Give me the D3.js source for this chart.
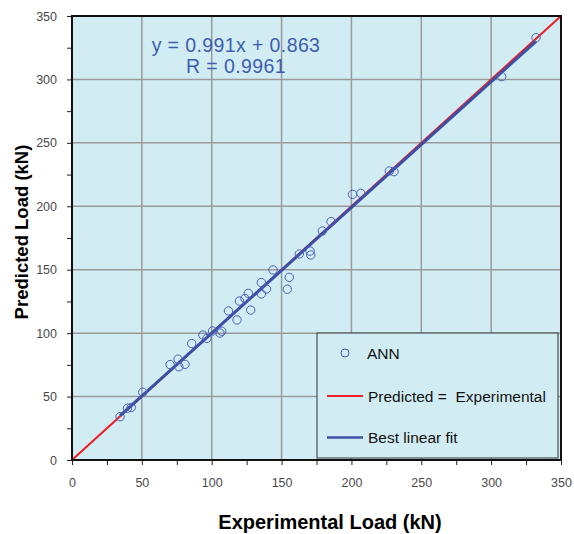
<!DOCTYPE html>
<html>
<head>
<meta charset="utf-8">
<script src="https://cdn.jsdelivr.net/npm/d3@7"></script>
<style>
  body { margin: 0; background: #fff; }
  svg { font-family: "Liberation Sans", Arial, sans-serif; }
  .tick text { fill: #4a4a4a; font-size: 12.5px; }
</style>
</head>
<body>
<div id="chart"></div>
<script>
// experimental vs predicted load (kN)
var experimental = [34.4, 39.7, 42.4, 50.6, 70.2, 75.9, 76.5, 80.9, 85.7, 93.7,
                    96.6, 100.6, 105.9, 107.2, 112.0, 118.1, 119.8, 123.8, 126.2, 127.9,
                    135.5, 135.6, 139.2, 143.9, 155.5, 154.1, 162.7, 170.4, 170.9, 179.2,
                    185.4, 200.8, 206.7, 227.1, 230.5, 307.6, 332.1];
var predicted    = [34.1, 40.8, 41.4, 53.4, 75.2, 79.5, 73.5, 75.4, 91.8, 98.5,
                    95.9, 101.7, 100.1, 101.5, 117.5, 110.4, 125.3, 127.3, 131.4, 118.2,
                    139.9, 130.9, 134.8, 149.8, 144.0, 134.6, 162.4, 164.7, 161.6, 180.5,
                    187.9, 209.4, 210.2, 227.8, 227.3, 302.2, 332.9];

var fitSlope = 0.991;
var fitIntercept = 0.863;
var equationLines = ["y = 0.991x + 0.863", "R = 0.9961"];
var tickValues = d3.range(0, 351, 25);
var legendLabels = ["ANN", "Predicted =  Experimental", "Best linear fit"];

var w = 574, h = 534;
var margin = {left: 72, right: 13, top: 16, bottom: 74};

var svg = d3.select("#chart").append("svg")
    .attr("width", w)
    .attr("height", h);

var x = d3.scaleLinear().domain([0, 350]).range([margin.left, w - margin.right]);
var y = d3.scaleLinear().domain([0, 350]).range([h - margin.bottom, margin.top]);

var blue = "#3b4fa6";
var red = "#ee1c24";
var bg = "#d1edf3";

// plot background
svg.append("rect")
    .attr("x", x(0)).attr("y", y(350))
    .attr("width", x(350) - x(0)).attr("height", y(0) - y(350))
    .attr("fill", bg);

// grid lines at the major ticks only
var major = tickValues.filter(function(d) { return d % 50 == 0 && d > 0 && d < 350; });
svg.selectAll(".gx").data(major).enter().append("line")
    .attr("x1", function(d) { return x(d); }).attr("x2", function(d) { return x(d); })
    .attr("y1", y(0)).attr("y2", y(350))
    .attr("stroke", "#9a9a9a").attr("stroke-width", 1.5);
svg.selectAll(".gy").data(major).enter().append("line")
    .attr("y1", function(d) { return y(d); }).attr("y2", function(d) { return y(d); })
    .attr("x1", x(0)).attr("x2", x(350))
    .attr("stroke", "#9a9a9a").attr("stroke-width", 1.5);

var fmt = function(d) { return d % 50 == 0 ? d : ""; };

var xAxis = svg.append("g")
    .attr("transform", "translate(0," + y(0) + ")")
    .call(d3.axisBottom(x).tickValues(tickValues).tickFormat(fmt).tickSize(5).tickPadding(13));
var yAxis = svg.append("g")
    .attr("transform", "translate(" + x(0) + ",0)")
    .call(d3.axisLeft(y).tickValues(tickValues).tickFormat(fmt).tickSize(5).tickPadding(10));
[xAxis, yAxis].forEach(function(a) {
    a.select(".domain").remove();
    a.selectAll(".tick line").attr("stroke", "#222");
});

// lines: red identity line, blue fit on top
svg.append("line")
    .attr("x1", x(0)).attr("y1", y(0))
    .attr("x2", x(350)).attr("y2", y(350))
    .attr("stroke", red).attr("stroke-width", 2);

var xmin = d3.min(experimental), xmax = d3.max(experimental);
svg.append("line")
    .attr("x1", x(xmin)).attr("y1", y(fitSlope * xmin + fitIntercept))
    .attr("x2", x(xmax)).attr("y2", y(fitSlope * xmax + fitIntercept))
    .attr("stroke", blue).attr("stroke-width", 3);

svg.selectAll(".pt")
    .data(experimental)
    .enter()
    .append("circle")
    .attr("cx", function(d) { return x(d); })
    .attr("cy", function(d, i) { return y(predicted[i]); })
    .attr("r", 4.2)
    .attr("fill", "none")
    .attr("stroke", "#4a60b8")
    .attr("stroke-width", 1);

// plot border
svg.append("rect")
    .attr("x", x(0)).attr("y", y(350))
    .attr("width", x(350) - x(0)).attr("height", y(0) - y(350))
    .attr("fill", "none").attr("stroke", "#111").attr("stroke-width", 2);

// equation
svg.selectAll(".eq")
    .data(equationLines)
    .enter()
    .append("text")
    .attr("x", 236)
    .attr("y", function(d, i) { return 52 + i * 21; })
    .attr("text-anchor", "middle")
    .attr("font-size", "19.5px")
    .attr("letter-spacing", "0.4px")
    .attr("fill", "#3f5db0")
    .text(function(d) { return d; });

// legend
var lg = svg.append("g");
lg.append("rect")
    .attr("x", 317).attr("y", 333).attr("width", 241).attr("height", 125)
    .attr("fill", bg).attr("stroke", "#333").attr("stroke-width", 1);
lg.append("circle")
    .attr("cx", 345).attr("cy", 353).attr("r", 4)
    .attr("fill", "none").attr("stroke", "#4a60b8");
lg.append("line")
    .attr("x1", 327).attr("x2", 363).attr("y1", 396).attr("y2", 396)
    .attr("stroke", red).attr("stroke-width", 2);
lg.append("line")
    .attr("x1", 327).attr("x2", 363).attr("y1", 437.5).attr("y2", 437.5)
    .attr("stroke", blue).attr("stroke-width", 2.5);
lg.selectAll(".lt")
    .data(legendLabels)
    .enter()
    .append("text")
    .attr("x", function(d, i) { return i == 0 ? 367 : 368; })
    .attr("y", function(d, i) { return [359, 401.5, 443][i]; })
    .attr("font-size", "15.5px")
    .attr("fill", "#111")
    .style("white-space", "pre")
    .text(function(d) { return d; });

// axis titles
svg.append("text")
    .attr("x", 330).attr("y", 529)
    .attr("text-anchor", "middle")
    .attr("font-size", "20px").attr("font-weight", "bold")
    .text("Experimental Load (kN)");
svg.append("text")
    .attr("transform", "translate(28,232) rotate(-90)")
    .attr("text-anchor", "middle")
    .attr("font-size", "18.5px").attr("font-weight", "bold")
    .text("Predicted Load (kN)");
</script>
</body>
</html>
